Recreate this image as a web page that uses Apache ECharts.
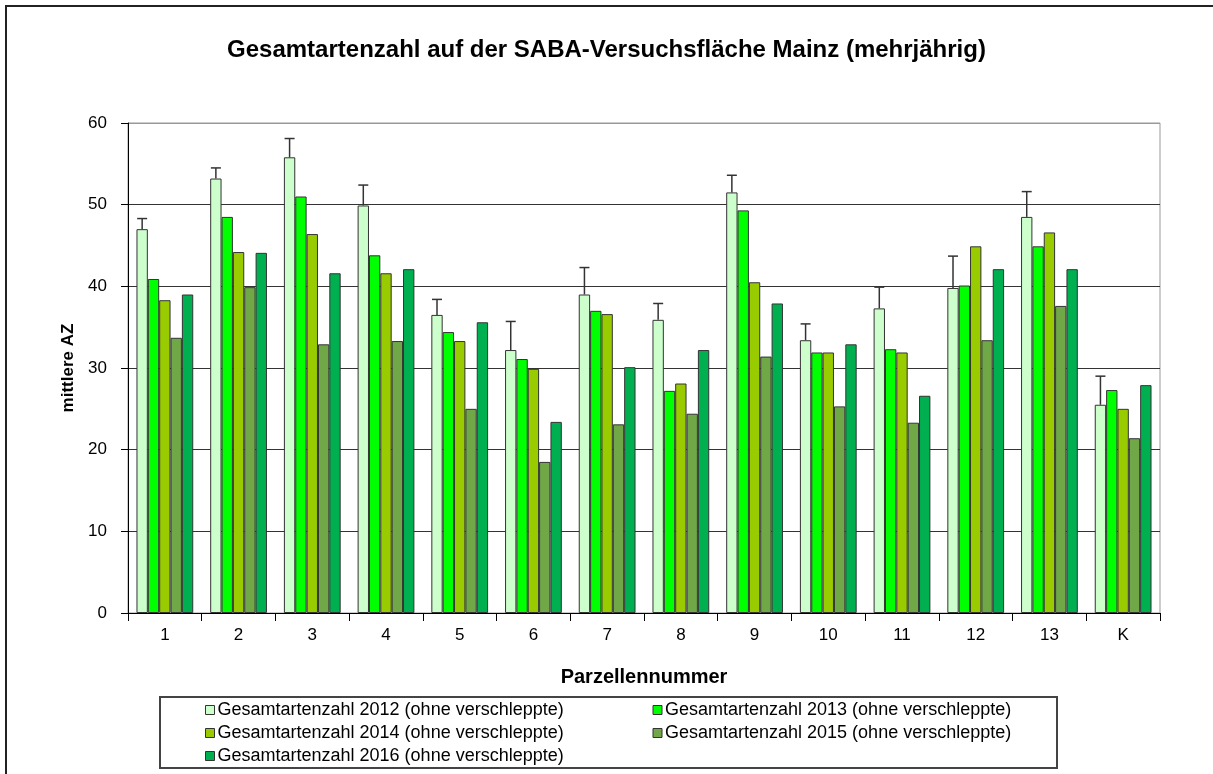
<!DOCTYPE html>
<html><head><meta charset="utf-8">
<script src="https://cdn.jsdelivr.net/npm/echarts@6/dist/echarts.min.js"></script>
<style>html,body{margin:0;padding:0;background:#fff}#c{width:1213px;height:774px}</style>
</head><body><div id="c"></div>
<script>
var categories = ['1','2','3','4','5','6','7','8','9','10','11','12','13','K'];
var seriesNames = ['Gesamtartenzahl 2012 (ohne verschleppte)','Gesamtartenzahl 2013 (ohne verschleppte)','Gesamtartenzahl 2014 (ohne verschleppte)','Gesamtartenzahl 2015 (ohne verschleppte)','Gesamtartenzahl 2016 (ohne verschleppte)'];
var y2012 = [47.0, 53.2, 55.8, 49.9, 36.5, 32.2, 39.0, 35.9, 51.5, 33.4, 37.3, 39.8, 48.5, 25.5];
var err2012 = [48.3, 54.5, 58.1, 52.4, 38.4, 35.7, 42.3, 37.9, 53.6, 35.4, 39.9, 43.7, 51.6, 29.0];
var y2013 = [40.9, 48.5, 51.0, 43.8, 34.4, 31.1, 37.0, 27.2, 49.3, 31.9, 32.3, 40.1, 44.9, 27.3];
var y2014 = [38.3, 44.2, 46.4, 41.6, 33.3, 29.9, 36.6, 28.1, 40.5, 31.9, 31.9, 44.9, 46.6, 25.0];
var y2015 = [33.7, 39.9, 32.9, 33.3, 25.0, 18.5, 23.1, 24.4, 31.4, 25.3, 23.3, 33.4, 37.6, 21.4];
var y2016 = [39.0, 44.1, 41.6, 42.1, 35.6, 23.4, 30.1, 32.2, 37.9, 32.9, 26.6, 42.1, 42.1, 27.9];
var yTicks = [0, 10, 20, 30, 40, 50, 60];

var colors = ['#CCFFCC', '#00FF00', '#99CC00', '#70A848', '#00B050'];
var catGap = 0.23;
var F = '"Liberation Sans", Arial, sans-serif';

var values = [y2012, y2013, y2014, y2015, y2016];
var series = values.map(function (v, i) {
  return {
    name: seriesNames[i], type: 'bar', data: v,
    barGap: '0%', barCategoryGap: (catGap * 100) + '%',
    itemStyle: { color: colors[i], borderColor: '#333', borderWidth: 1 },
    emphasis: { disabled: true }, z: 3
  };
});
var errData = categories.map(function (c, i) { return [i, y2012[i], err2012[i]]; });
series.push({
  type: 'custom', name: 'err', data: errData, z: 5, silent: true,
  renderItem: function (params, api) {
    var idx = api.value(0);
    var band = api.size([1, 0])[0];
    var bw = band * (1 - catGap) / 5;
    var p0 = api.coord([idx, api.value(1)]);
    var p1 = api.coord([idx, api.value(2)]);
    var x = p0[0] - 2 * bw;
    var cap = 5;
    return { type: 'group', children: [
      { type: 'line', shape: { x1: x, y1: p0[1], x2: x, y2: p1[1] }, style: { stroke: '#333', lineWidth: 1.5 } },
      { type: 'line', shape: { x1: x - cap, y1: p1[1], x2: x + cap, y2: p1[1] }, style: { stroke: '#333', lineWidth: 1.5 } }
    ]};
  }
});

var chart = echarts.init(document.getElementById('c'));
chart.setOption({
  animation: false,
  backgroundColor: '#fff',
  title: { text: 'Gesamtartenzahl auf der SABA-Versuchsfläche Mainz (mehrjährig)', left: 'center', top: 33,
    textStyle: { fontFamily: F, fontSize: 24, fontWeight: 'bold', color: '#000' } },
  grid: { left: 128, right: 53, top: 123, bottom: 161, show: true, borderColor: '#999', borderWidth: 1 },
  legend: {
    data: seriesNames, left: 200, top: 696, width: 900, itemGap: 5,
    itemWidth: 9, itemHeight: 9, icon: 'rect',
    itemStyle: { borderColor: '#333', borderWidth: 1 },
    textStyle: { fontFamily: F, fontSize: 18, color: '#000', width: 430, lineHeight: 17, padding: [0,0,0,-2] },
    selectedMode: false
  },
  xAxis: {
    type: 'category', data: categories,
    name: 'Parzellennummer', nameLocation: 'middle', nameGap: 54,
    nameTextStyle: { fontFamily: F, fontSize: 20, fontWeight: 'bold', color: '#000' },
    axisLine: { lineStyle: { color: '#000', width: 1 } },
    axisTick: { show: true, interval: 0, length: 8, lineStyle: { color: '#000' } },
    axisLabel: { fontFamily: F, fontSize: 17, color: '#000', margin: 14, interval: 0 }
  },
  yAxis: {
    type: 'value', min: yTicks[0], max: yTicks[yTicks.length - 1], interval: 10,
    name: 'mittlere AZ', nameLocation: 'middle', nameGap: 47,
    nameTextStyle: { fontFamily: F, fontSize: 17, fontWeight: 'bold', color: '#000' },
    axisLine: { show: true, lineStyle: { color: '#000', width: 1 } },
    axisTick: { show: true, length: 7, lineStyle: { color: '#000' } },
    axisLabel: { fontFamily: F, fontSize: 17, color: '#000', margin: 21 },
    splitLine: { show: true, lineStyle: { color: ['#333','#333','#333','#333','#333','#333','#999'], width: 1 } }
  },
  graphic: [
    { type: 'rect', silent: true, shape: { x: 6, y: 6, width: 1240, height: 820 }, style: { fill: 'none', stroke: '#222', lineWidth: 2 } },
    { type: 'rect', silent: true, shape: { x: 160, y: 697, width: 897, height: 71 }, style: { fill: 'none', stroke: '#444', lineWidth: 2 } }
  ],
  series: series
});
</script></body></html>
